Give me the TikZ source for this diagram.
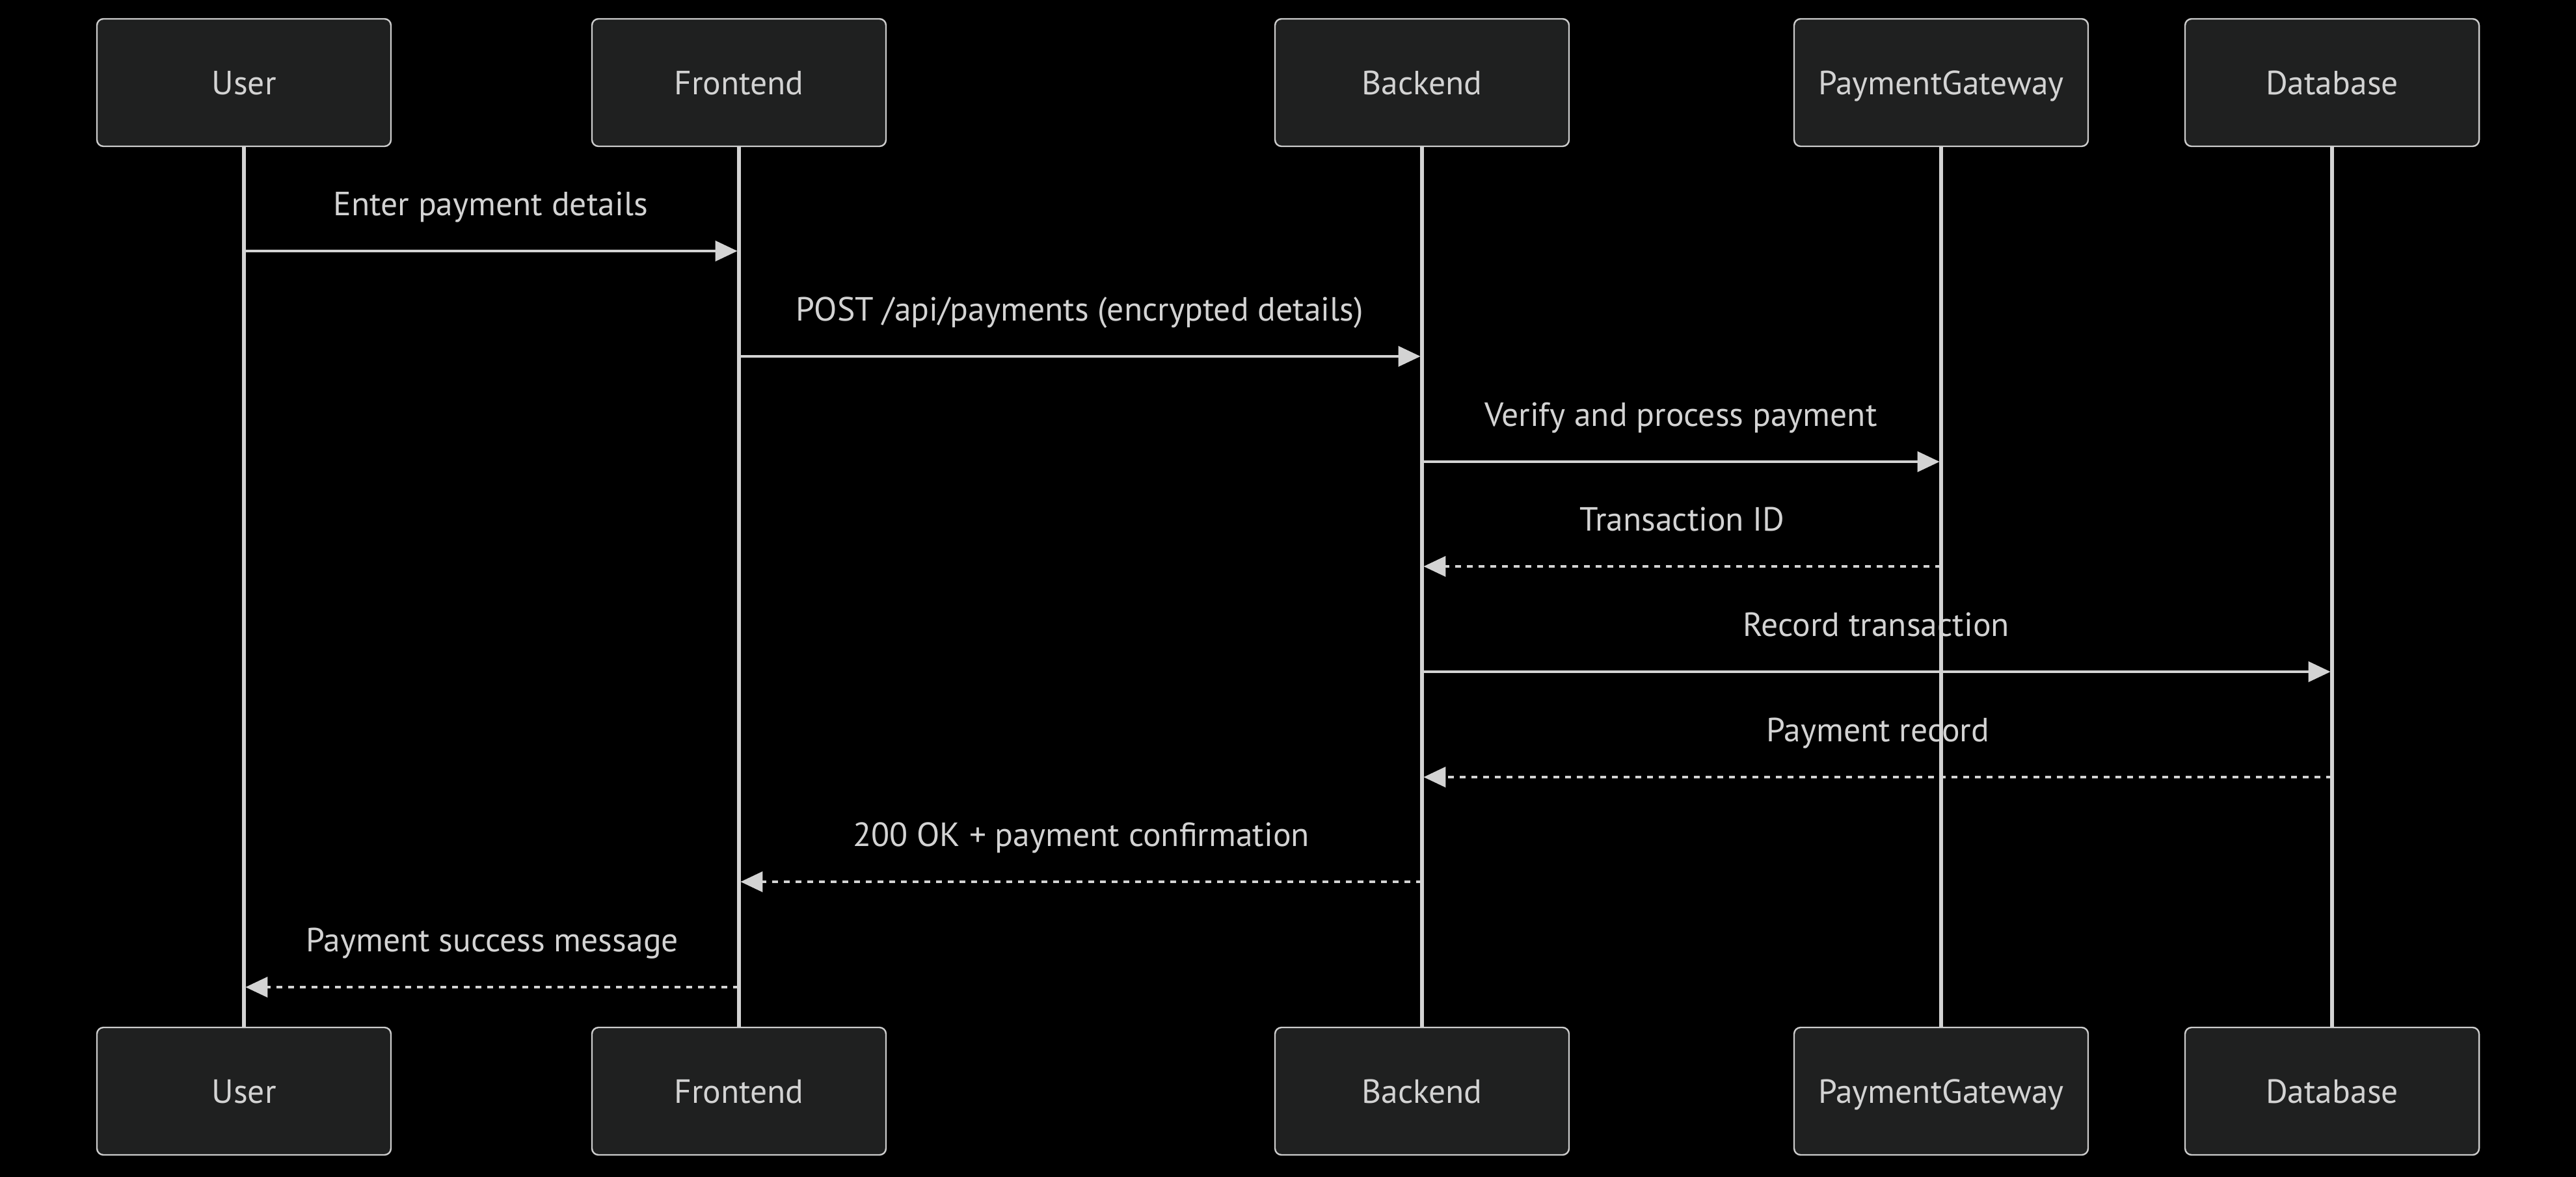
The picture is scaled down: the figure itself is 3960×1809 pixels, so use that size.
\documentclass[tikz,border=0pt]{standalone}
\usepackage{fontspec}
\setmainfont{PT Sans}
\usetikzlibrary{arrows.meta}
\definecolor{bgc}{HTML}{000000}
\definecolor{boxfill}{HTML}{1F2020}
\definecolor{boxline}{HTML}{CCCCCC}
\definecolor{ink}{HTML}{D3D3D3}
\tikzset{
  actor/.style={draw=boxline, fill=boxfill, line width=0.6pt, rounded corners=2.5pt,
    minimum width=113pt, minimum height=49pt, inner sep=0pt, text=ink,
    text height=9pt, text depth=0pt,
    font=\fontsize{12.9}{15}\selectfont},
  life/.style={draw=ink, line width=1.3pt},
  msg/.style={draw=ink, line width=1.05pt, -{Triangle[length=8.5pt,width=7.75pt]}},
  reply/.style={msg, dash pattern=on 2.25pt off 2.25pt},
  lbl/.style={text=ink, font=\fontsize{12.9}{15}\selectfont, inner sep=0pt,
    text height=9pt, text depth=0pt, yshift=18.25pt}
}
\begin{document}
\begin{tikzpicture}[x=0.25pt,y=-0.25pt]
\useasboundingbox (0,0) rectangle (3960,1809);
\fill[bgc] (-20,-20) rectangle (3980,1829);
% actors top
\node[actor] (ut) at (375,127) {User};
\node[actor] (ft) at (1136,127) {Frontend};
\node[actor] (bt) at (2186,127) {Backend};
\node[actor] (pt) at (2984,127) {PaymentGateway};
\node[actor] (dt) at (3585,127) {Database};
% actors bottom
\node[actor] (ub) at (375,1678) {User};
\node[actor] (fb) at (1136,1678) {Frontend};
\node[actor] (bb) at (2186,1678) {Backend};
\node[actor] (pb) at (2984,1678) {PaymentGateway};
\node[actor] (db) at (3585,1678) {Database};
% lifelines
\draw[life] (ut.south) -- (ub.north);
\draw[life] (ft.south) -- (fb.north);
\draw[life] (bt.south) -- (bb.north);
\draw[life] (pt.south) -- (pb.north);
\draw[life] (dt.south) -- (db.north);
% rows
\coordinate (r1) at (0,386);
\coordinate (r2) at (0,548);
\coordinate (r3) at (0,710);
\coordinate (r4) at (0,871);
\coordinate (r5) at (0,1033);
\coordinate (r6) at (0,1195);
\coordinate (r7) at (0,1356);
\coordinate (r8) at (0,1518);
% messages
\draw[msg] (ut |- r1) -- node[lbl] (m1) {Enter payment details} ([xshift=-0.6pt]ft |- r1);
\draw[msg] (ft |- r2) -- node[lbl] (m2) {POST /api/payments (encrypted details)} ([xshift=-0.6pt]bt |- r2);
\draw[msg] (bt |- r3) -- node[lbl] (m3) {Verify and process payment} ([xshift=-0.6pt]pt |- r3);
\draw[reply] (pt |- r4) -- node[lbl] (m4) {Transaction ID} ([xshift=0.6pt]bt |- r4);
\draw[msg] (bt |- r5) -- node[lbl] (m5) {Record transaction} ([xshift=-0.6pt]dt |- r5);
\draw[reply] (dt |- r6) -- node[lbl] (m6) {Payment record} ([xshift=0.6pt]bt |- r6);
\draw[reply] (bt |- r7) -- node[lbl] (m7) {200 OK + payment confirmation} ([xshift=0.6pt]ft |- r7);
\draw[reply] (ft |- r8) -- node[lbl] (m8) {Payment success message} ([xshift=0.6pt]ut |- r8);
\end{tikzpicture}
\end{document}
